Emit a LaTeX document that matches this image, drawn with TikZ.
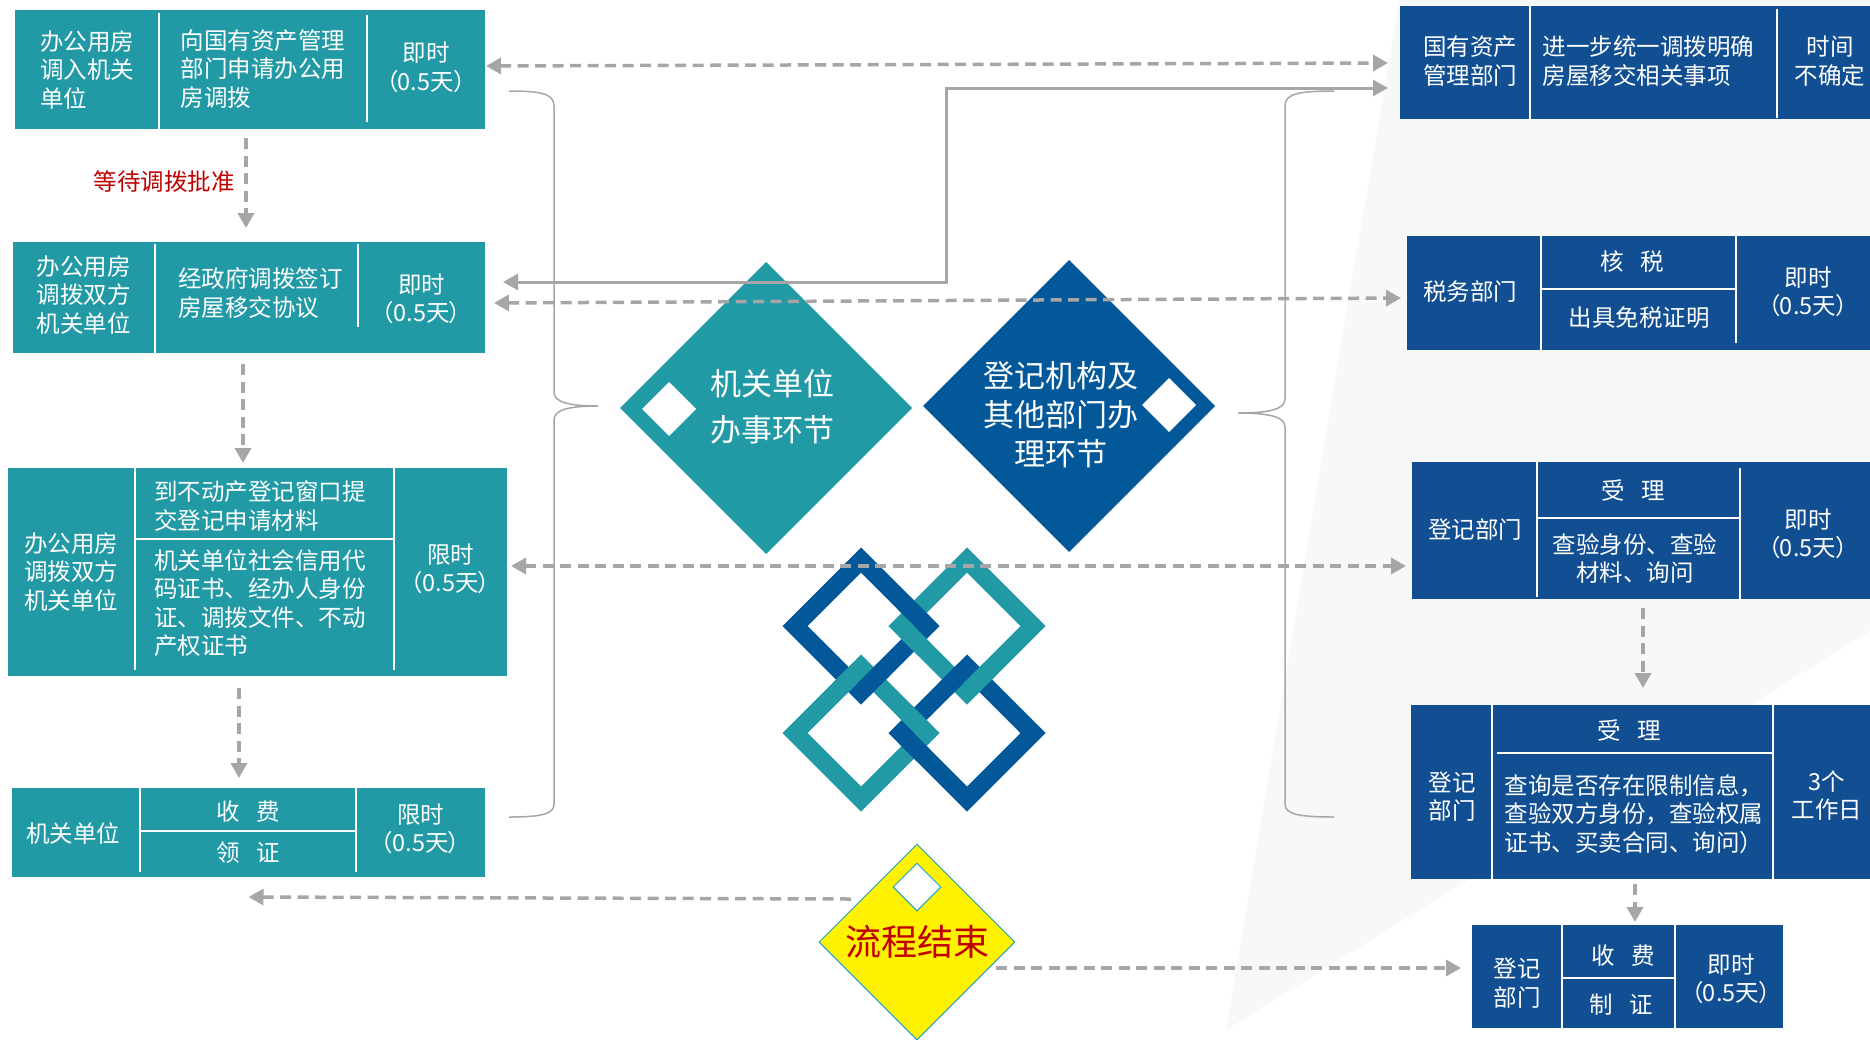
\documentclass[tikz,border=0pt]{standalone}
\usepackage{fontspec}
\newfontfamily\cjk{Noto Sans CJK SC}
\newfontfamily\cjkp[RawFeature=+palt]{Noto Sans CJK SC}
\usetikzlibrary{arrows.meta,calc,shapes.geometric}
\definecolor{tealc}{HTML}{219AA6}
\definecolor{boxblue}{HTML}{114F92}
\definecolor{diablue}{HTML}{025898}
\definecolor{agray}{HTML}{A6A6A6}
\definecolor{bggray}{HTML}{F7F8FA}
\definecolor{redtxt}{HTML}{C00000}
\definecolor{endcyan}{HTML}{1BA3C6}
\newcommand{\hday}{{\cjkp （0.5天）}}
\begin{document}
\begin{tikzpicture}[x=1pt,y=-1pt,
 tealbox/.style={fill=tealc, anchor=north west, inner sep=0pt, outer sep=0pt},
 bluebox/.style={fill=boxblue, anchor=north west, inner sep=0pt, outer sep=0pt},
 cell/.style={text=white, font=\cjk\fontsize{23.5}{28.5}\selectfont, align=left, inner sep=0pt},
 ccell/.style={cell, align=center},
 divider/.style={draw=white, line width=1.8pt},
 darr/.style={draw=agray, line width=3.5pt, dash pattern=on 11pt off 6.5pt, -{Triangle[length=15pt,width=16pt]}},
 ddarr/.style={draw=agray, line width=3.5pt, dash pattern=on 11pt off 6.5pt, {Triangle[length=15pt,width=16pt]}-{Triangle[length=15pt,width=16pt]}},
 sarr/.style={draw=agray, line width=3pt, {Triangle[length=15pt,width=16pt]}-{Triangle[length=15pt,width=16pt]}},
 brace/.style={draw=agray, line width=1.5pt},
 knotring/.style={line width=17.7pt, line join=miter, miter limit=10},
 overseg/.style={line width=17.7pt, line cap=butt},
 bigdia/.style={diamond, inner sep=0pt, outer sep=0pt, minimum width=292pt, minimum height=292pt},
 smalldia/.style={diamond, fill=white, inner sep=0pt, outer sep=0pt, minimum width=54pt, minimum height=54pt},
]
\useasboundingbox (0,0) rectangle (1870,1039);
% background
\fill[bggray] (1399,0) -- (1870,0) -- (1870,631) -- (1226,1030) -- cycle;

% ---------- left boxes ----------
\node[tealbox, minimum width=470pt, minimum height=119pt] (b1) at (15,10) {};
\node[tealbox, minimum width=472.5pt, minimum height=111pt] (b2) at (12.5,242) {};
\node[tealbox, minimum width=499pt, minimum height=208pt] (b3) at (8,468) {};
\node[tealbox, minimum width=473pt, minimum height=89pt] (b4) at (12,788) {};
\draw[divider] (159,13) -- (159,129);
\draw[divider] (367,15) -- (367,122);
\draw[divider] (155,244) -- (155,353);
\draw[divider] (358,244) -- (358,327);
\draw[divider] (135,468) -- (135,670);
\draw[divider] (394,468) -- (394,670);
\draw[divider] (135,539) -- (394,539);
\draw[divider] (140,788) -- (140,872);
\draw[divider] (356,788) -- (356,872);
\draw[divider] (140,831) -- (356,831);

% ---------- right boxes ----------
\node[bluebox, minimum width=470pt, minimum height=113pt] (r1) at (1400,6) {};
\node[bluebox, minimum width=463pt, minimum height=114pt] (r2) at (1407,236) {};
\node[bluebox, minimum width=458pt, minimum height=137pt] (r3) at (1412,462) {};
\node[bluebox, minimum width=459pt, minimum height=174pt] (r4) at (1411,705) {};
\node[bluebox, minimum width=311pt, minimum height=103pt] (r5) at (1472,925) {};
\draw[divider] (1530,6) -- (1530,119);
\draw[divider] (1777,9) -- (1777,118);
\draw[divider] (1541,236) -- (1541,350);
\draw[divider] (1736,236) -- (1736,343);
\draw[divider] (1541,289) -- (1736,289);
\draw[divider] (1537,462) -- (1537,597);
\draw[divider] (1740,468) -- (1740,599);
\draw[divider] (1537,518) -- (1740,518);
\draw[divider] (1492,705) -- (1492,879);
\draw[divider] (1773,705) -- (1773,879);
\draw[divider] (1497,753) -- (1773,753);
\draw[divider] (1562,925) -- (1562,1028);
\draw[divider] (1675,925) -- (1675,1028);
\draw[divider] (1562,978) -- (1675,978);

% ---------- box texts ----------
\node[cell] (b1a) at (87,70) {办公用房\\调入机关\\单位};
\node[cell] (b1b) at (263,69) {向国有资产管理\\部门申请办公用\\房调拨};
\node[ccell] (b1c) at (426,67.5) {即时\\\hday};
\node[cell] (b2a) at (83.5,295) {办公用房\\调拨双方\\机关单位};
\node[cell] (b2b) at (260.5,293) {经政府调拨签订\\房屋移交协议};
\node[ccell] (b2c) at (421.5,299) {即时\\\hday};
\node[cell] (b3a) at (71,572) {办公用房\\调拨双方\\机关单位};
\node[cell] (b3b) at (260,506) {到不动产登记窗口提\\交登记申请材料};
\node[cell] (b3c) at (260,603) {机关单位社会信用代\\码证书、经办人身份\\证、调拨文件、不动\\产权证书};
\node[ccell] (b3d) at (450.5,569) {限时\\\hday};
\node[cell] (b4a) at (73,833) {机关单位};
\node[cell] (b4b) at (248,812) {收\hspace{0.7em}费};
\node[cell] (b4c) at (248,853) {领\hspace{0.7em}证};
\node[ccell] (b4d) at (420.5,829) {限时\\\hday};

\node[cell] (r1a) at (1470,61) {国有资产\\管理部门};
\node[cell] (r1b) at (1648.5,61) {进一步统一调拨明确\\房屋移交相关事项};
\node[ccell] (r1c) at (1830,61) {时间\\不确定};
\node[cell] (r2a) at (1470,292) {税务部门};
\node[cell] (r2b) at (1632,262) {核\hspace{0.7em}税};
\node[cell] (r2c) at (1639,318) {出具免税证明};
\node[ccell] (r2d) at (1808,292) {即时\\\hday};
\node[cell] (r3a) at (1475,530) {登记部门};
\node[cell] (r3b) at (1633,490) {受\hspace{0.7em}理};
\node[ccell] (r3c) at (1635,558.5) {查验身份、查验\\材料、询问};
\node[ccell] (r3d) at (1808,534) {即时\\\hday};
\node[ccell] (r4a) at (1452,796.5) {登记\\部门};
\node[cell] (r4b) at (1629,730) {受\hspace{0.7em}理};
\node[cell] (r4c) at (1634,814) {查询是否存在限制信息，\\查验双方身份，查验权属\\证书、买卖合同、询问）};
\node[ccell] (r4d) at (1827,795.5) {3个\\工作日};
\node[ccell] (r5a) at (1517,983) {登记\\部门};
\node[cell] (r5b) at (1623,956) {收\hspace{0.7em}费};
\node[cell] (r5c) at (1621,1005) {制\hspace{0.7em}证};
\node[ccell] (r5d) at (1731,979) {即时\\\hday};

\node[text=redtxt, font=\cjk\fontsize{23.5}{28}\selectfont, inner sep=0pt] (wait) at (164,182) {等待调拨批准};

% ---------- central diamonds ----------
\node[bigdia, fill=tealc] (d1) at (766,408) {};
\node[bigdia, fill=diablue] (d2) at (1069,406) {};
\node[smalldia] (d1s) at (669,409) {};
\node[smalldia] (d2s) at (1169,405) {};

% ---------- knot ----------
\draw[knotring, draw=diablue] (861,560) -- (927,626) -- (861,692) -- (795,626) -- cycle;
\draw[knotring, draw=tealc] (967,560) -- (1033,626) -- (967,692) -- (901,626) -- cycle;
\draw[knotring, draw=tealc] (861,667) -- (927,733) -- (861,799) -- (795,733) -- cycle;
\draw[knotring, draw=diablue] (967,667) -- (1033,733) -- (967,799) -- (901,733) -- cycle;
\draw[overseg, draw=diablue] (904,603) -- (924,623);
\draw[overseg, draw=tealc] (904,629) -- (924,649);
\draw[overseg, draw=tealc] (838.5,689.5) -- (858.5,669.5);
\draw[overseg, draw=diablue] (863.5,689.5) -- (883.5,669.5);
\draw[overseg, draw=diablue] (944.5,689.5) -- (964.5,669.5);
\draw[overseg, draw=tealc] (969.5,689.5) -- (989.5,669.5);
\draw[overseg, draw=tealc] (904,710) -- (924,730);
\draw[overseg, draw=diablue] (904,736) -- (924,756);

% ---------- end diamond ----------
\node[diamond, fill=yellow, draw=endcyan, line width=1pt, minimum width=196pt, minimum height=196pt, inner sep=0pt, text=redtxt, font=\cjk\fontsize{36}{40}\selectfont] (endd) at (917,942) {流程结束};
\node[diamond, fill=white, draw=endcyan, line width=1pt, minimum width=48pt, minimum height=48pt, inner sep=0pt] (endds) at (917,887) {};

% ---------- braces ----------
\draw[brace] (509,91) .. controls (542,91) and (554,94) .. (554,106) -- (554,392) .. controls (554,402) and (568,406) .. (598,406) .. controls (568,406) and (554,410) .. (554,420) -- (554,804) .. controls (554,814) and (542,817) .. (509,817);
\draw[brace] (1334,91) .. controls (1298,91) and (1285,94) .. (1285,106) -- (1285,399) .. controls (1285,409) and (1270,413) .. (1238,413) .. controls (1270,413) and (1285,417) .. (1285,427) -- (1285,804) .. controls (1285,814) and (1298,817) .. (1334,817);

% ---------- connectors ----------
\coordinate (jog) at (946,88);
\draw[ddarr] ($(b1.east)+(1,-3.5)$) -- ($(r1.west)+(-12,0.5)$);
\draw[sarr] ($(b2.east)+(18,-15.5)$) -| (jog) -- ($(r1.west)+(-12,25.5)$);
\draw[ddarr] ($(b2.east)+(9,5.5)$) -- ($(r2.west)+(-6,5)$);
\draw[ddarr] ($(b3.east)+(4,-6)$) -- ($(r3.west)+(-6,35.5)$);
\draw[darr] ($(endd.center)+(-66,-43)$) -- ($(b4.south)+(0,20)$);
\draw[darr] ($(endd.center)+(79,26)$) -- ($(r5.west)+(-11,-8.5)$);
\draw[darr] ($(b1.south)+(-4,9)$) -- ($(b2.north)+(-2.75,-14)$);
\draw[darr] ($(b2.south)+(-5.75,11)$) -- ($(b3.north)+(-14.5,-5)$);
\draw[darr] ($(b3.south)+(-18.5,12)$) -- ($(b4.north)+(-9.5,-10)$);
\draw[darr] ($(r3.south)+(2,9)$) -- ($(r4.north)+(2.5,-17)$);
\draw[darr] ($(r4.south)+(-5.5,5)$) -- ($(r5.north)+(7.5,-3)$);

% ---------- diamond texts ----------
\node[text=white, font=\cjk\fontsize{31}{46}\selectfont, align=center, inner sep=0pt] (t1) at (772,407) {机关单位\\办事环节};
\node[text=white, font=\cjk\fontsize{31}{39}\selectfont, align=center, inner sep=0pt] (t2) at (1061,415) {登记机构及\\其他部门办\\理环节};
\end{tikzpicture}
\end{document}
